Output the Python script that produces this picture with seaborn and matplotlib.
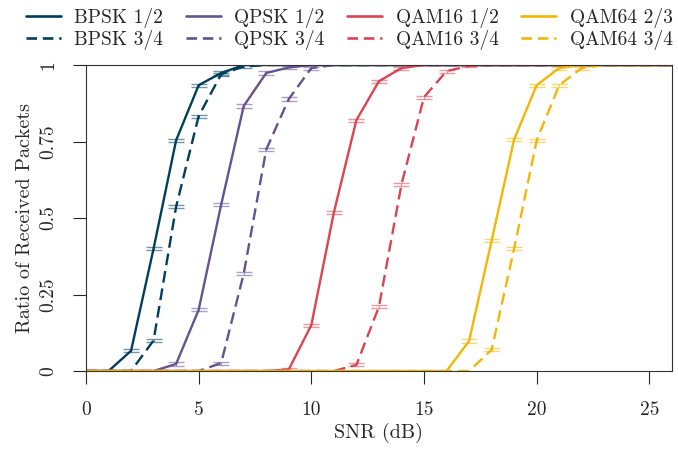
import numpy as np
import pandas as pd
import matplotlib.pyplot as plt
import seaborn as sns
from matplotlib.lines import Line2D

# Packet reception ratio vs SNR for each modulation / coding rate
snr = list(range(0, 27))

bpsk_12 = [0, 0, 0.066, 0.40, 0.754, 0.934, 0.974, 1.0] + [1.0] * 19
bpsk_34 = [0, 0, 0, 0.10, 0.537, 0.833, 0.97, 0.995, 1.0] + [1.0] * 18
qpsk_12 = [0, 0, 0, 0, 0.023, 0.20, 0.544, 0.866, 0.974, 0.992, 1.0] + [1.0] * 16
qpsk_34 = [0, 0, 0, 0, 0, 0, 0.026, 0.318, 0.724, 0.889, 0.99, 1.0] + [1.0] * 15
qam16_12 = [0] * 9 + [0.005, 0.15, 0.518, 0.82, 0.947, 0.99, 1.0] + [1.0] * 11
qam16_34 = [0] * 12 + [0.02, 0.21, 0.61, 0.895, 0.98, 0.997, 1.0] + [1.0] * 8
qam64_23 = [0] * 17 + [0.098, 0.426, 0.757, 0.934, 0.99, 1.0, 1.0, 1.0, 1.0, 1.0]
qam64_34 = [0] * 18 + [0.069, 0.40, 0.754, 0.934, 0.99, 1.0, 1.0, 1.0, 1.0]

labels = ["BPSK 1/2", "BPSK 3/4", "QPSK 1/2", "QPSK 3/4",
          "QAM16 1/2", "QAM16 3/4", "QAM64 2/3", "QAM64 3/4"]
series = [bpsk_12, bpsk_34, qpsk_12, qpsk_34, qam16_12, qam16_34, qam64_23, qam64_34]
colors = ["#003f5c", "#003f5c", "#665191", "#665191",
          "#dc4452", "#dc4452", "#f2b705", "#f2b705"]
styles = ["-", "--"] * 4

sns.set_style("ticks")
plt.rcParams["font.family"] = ["cmr10", "DejaVu Serif"]
plt.rcParams["axes.unicode_minus"] = False
plt.rcParams["mathtext.fontset"] = "cm"

fig = plt.figure(figsize=(6.78, 4.49), dpi=100)
ax = fig.add_axes([0.1268, 0.1737, 0.8642, 0.6815])

handles = []
for lab, ys, col, ls in zip(labels, series, colors, styles):
    df = pd.DataFrame({"SNR": snr, "ratio": ys})
    sns.lineplot(data=df, x="SNR", y="ratio", ax=ax, color=col, linewidth=1.7)
    if ls == "--":
        ax.lines[-1].set_dashes((5, 2.5))
    # tiny confidence intervals drawn as caps (only where not saturated)
    mid = df[(df["ratio"] > 0) & (df["ratio"] < 1)]
    ax.errorbar(mid["SNR"], mid["ratio"], yerr=0.005, fmt="none", ecolor=col,
                elinewidth=0.8, capsize=6, capthick=1.0, alpha=0.55)
    h = Line2D([], [], color=col, linewidth=1.9, linestyle=ls)
    if ls == "--":
        h.set_dashes((4, 2.2))
    handles.append(h)

ax.set_xlim(0, 26)
ax.set_ylim(0, 1)
ax.set_xticks([0, 5, 10, 15, 20, 25])
ax.set_xticklabels(["0", "5", "10", "15", "20", "25"])
ax.set_yticks([0, 0.25, 0.5, 0.75, 1])
ax.set_yticklabels(["0", "0.25", "0.5", "0.75", "1"], rotation=90, va="center")
ax.tick_params(axis="x", length=9.5, width=0.8, pad=12, labelsize=14)
ax.tick_params(axis="y", length=9.5, width=0.8, pad=11, labelsize=14)
for s in ax.spines.values():
    s.set_linewidth(0.8)
    s.set_color("#333333")

ax.set_xlabel("SNR (dB)", fontsize=14.5, labelpad=3)
ax.set_ylabel("Ratio of Received Packets", fontsize=14.5, labelpad=4)

fig.legend(handles, labels, ncol=4, loc="upper left", bbox_to_anchor=(0.038, 0.983),
           frameon=False, fontsize=14, handlelength=1.8, columnspacing=1.15,
           labelspacing=0.12, handletextpad=0.7, borderpad=0, borderaxespad=0)

fig.savefig("out.png", dpi=100)
